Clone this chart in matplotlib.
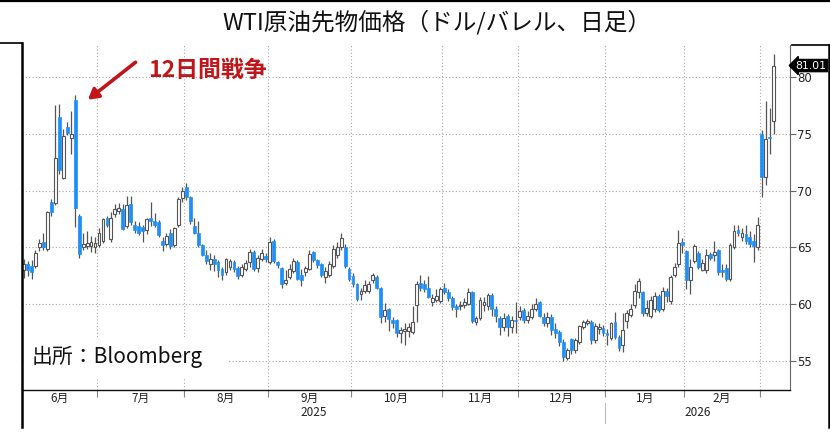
import numpy as np
import pandas as pd
import matplotlib
matplotlib.use('Agg')
import matplotlib.pyplot as plt
from matplotlib.lines import Line2D
from matplotlib.patches import Rectangle

plt.rcParams['font.family'] = ['Noto Sans CJK JP', 'DejaVu Sans']

# Trading days shown (NYMEX holidays taken out)
holidays = ['2025-06-19', '2025-07-04', '2025-09-01', '2025-11-27',
            '2025-12-25', '2026-01-01', '2026-01-19', '2026-02-16']
dates = pd.bdate_range('2025-06-03', '2026-03-05')
dates = dates[~dates.isin(pd.to_datetime(holidays))]

# Daily OHLC (USD/bbl)
opens = [
    # Jun
    63.0, 63.5, 63.4, 63.4, 65.0, 65.5, 64.9, 69.0, 68.9, 76.5, 71.1, 75.6, 74.6, 78.0, 67.8, 65.0, 65.1, 65.1, 65.05,
    # Jul
    65.2, 65.6, 67.55, 65.7, 67.9, 68.2, 68.4, 66.9, 68.8, 67.0, 66.9, 66.8, 66.5, 67.6, 67.3, 67.2, 65.6, 65.3, 66.3, 65.2, 67.0, 69.35,
    # Aug
    70.35, 69.4, 66.9, 66.3, 65.2, 64.35, 63.5, 64.0, 63.7, 63.1, 62.8, 63.3, 63.7, 63.2, 62.6, 63.1, 63.7, 64.6, 63.2, 64.0, 64.25,
    # Sep
    63.7, 65.6, 63.7, 63.2, 61.85, 62.35, 62.9, 63.7, 62.6, 62.85, 63.1, 64.55, 63.9, 63.5, 62.4, 62.6, 63.4, 64.3, 65.0, 65.0, 63.1,
    # Oct
    62.5, 61.75, 60.9, 61.2, 61.15, 62.1, 62.35, 61.45, 59.0, 59.6, 58.6, 58.6, 57.5, 57.6, 57.6, 57.55, 59.9, 61.85, 61.75, 61.4, 60.2, 60.4, 60.25,
    # Nov
    61.4, 61.1, 60.5, 59.8, 59.8, 59.95, 60.05, 61.1, 58.4, 58.75, 59.9, 59.8, 60.8, 59.6, 58.8, 58.0, 59.0, 58.0, 58.6,
    # Dec
    58.9, 59.5, 58.6, 58.9, 59.6, 60.2, 58.9, 58.3, 58.9, 57.85, 57.55, 56.7, 55.3, 56.9, 56.0, 56.7, 58.0, 58.3, 58.45, 56.8, 57.85, 57.9,
    # Jan
    57.5, 57.0, 58.4, 57.1, 56.4, 58.5, 59.05, 59.9, 61.1, 61.05, 59.2, 59.0, 59.6, 60.7, 59.6, 61.2, 60.3, 62.6, 63.5, 65.5,
    # Feb
    64.7, 62.15, 63.8, 64.5, 63.0, 63.0, 64.4, 64.3, 64.8, 63.0, 63.15, 62.2, 65.0, 66.5, 65.9, 66.2, 65.9, 65.6, 65.0,
    # Mar
    75.0, 71.2, 74.75, 76.1,
]
highs = [
    64.0, 63.8, 63.9, 64.8, 65.7, 66.3, 68.2, 69.3, 77.5, 77.6, 75.4, 76.0, 77.0, 78.4, 67.9, 66.3, 66.4, 66.0, 65.9,
    66.7, 67.6, 67.8, 68.1, 68.8, 68.9, 68.8, 69.5, 69.5, 67.3, 67.2, 67.0, 67.6, 69.0, 68.0, 67.4, 65.9, 66.3, 66.6, 66.8, 69.4, 70.3,
    70.7, 69.5, 67.6, 67.3, 65.3, 64.8, 64.5, 64.3, 63.9, 63.3, 64.1, 64.0, 63.9, 63.4, 63.5, 63.9, 64.85, 64.8, 64.3, 64.9, 64.5,
    65.9, 65.7, 63.8, 63.3, 63.0, 63.5, 64.1, 63.9, 63.1, 63.4, 64.8, 64.7, 64.0, 63.6, 63.3, 63.8, 65.2, 65.5, 66.3, 65.3, 63.3,
    62.7, 61.9, 61.4, 62.1, 62.0, 62.75, 62.6, 61.5, 60.1, 59.7, 58.9, 58.7, 58.0, 58.3, 58.3, 59.8, 62.0, 62.6, 62.1, 62.5, 60.9, 61.3, 61.5,
    61.9, 61.3, 60.7, 60.0, 60.3, 60.5, 61.4, 61.2, 59.0, 60.6, 60.6, 61.0, 61.0, 59.8, 59.0, 59.2, 59.1, 59.0, 60.2,
    59.8, 59.7, 59.4, 60.0, 60.5, 60.3, 59.2, 59.3, 59.1, 58.3, 57.7, 56.9, 56.1, 57.0, 57.0, 58.2, 58.6, 58.7, 58.6, 58.3, 58.3, 58.2,
    57.8, 58.4, 59.3, 57.3, 59.2, 59.5, 60.0, 61.8, 62.3, 61.2, 60.4, 60.7, 61.1, 60.9, 61.5, 61.4, 62.6, 63.6, 66.5, 65.8,
    64.8, 64.0, 65.3, 64.7, 64.0, 64.9, 64.6, 65.6, 64.9, 63.5, 63.5, 65.4, 67.0, 67.0, 66.7, 67.0, 66.4, 66.2, 67.7,
    75.3, 77.9, 77.3, 82.0,
]
lows = [
    62.3, 62.5, 62.2, 63.2, 64.7, 64.8, 64.7, 67.8, 68.7, 71.5, 71.0, 74.9, 73.2, 66.8, 64.1, 64.8, 64.9, 64.6, 64.5,
    65.0, 65.4, 66.8, 65.5, 67.7, 67.9, 66.5, 66.7, 67.0, 66.3, 66.1, 65.5, 66.2, 66.9, 66.8, 65.9, 64.7, 65.1, 64.9, 65.0, 66.8, 69.0,
    69.2, 67.1, 66.2, 65.0, 64.2, 63.5, 63.0, 62.9, 62.4, 62.1, 62.6, 63.0, 62.8, 62.2, 62.4, 62.9, 63.25, 62.9, 62.8, 63.8, 63.7,
    63.5, 63.6, 63.2, 61.4, 61.7, 62.2, 62.7, 62.1, 61.6, 62.5, 63.0, 63.7, 63.2, 62.4, 61.9, 62.4, 63.2, 64.1, 64.8, 63.2, 62.0,
    61.5, 60.3, 60.4, 61.0, 61.0, 61.9, 61.3, 58.3, 58.4, 57.6, 57.9, 57.1, 56.6, 56.4, 57.1, 57.4, 58.4, 61.2, 61.1, 60.5, 59.8, 60.2, 60.1,
    60.9, 60.3, 59.5, 58.9, 59.5, 59.7, 59.9, 58.3, 58.2, 58.6, 59.4, 59.5, 59.0, 58.4, 57.3, 57.6, 57.2, 57.5, 57.5,
    58.6, 58.3, 58.3, 58.7, 59.4, 58.9, 58.1, 58.0, 57.3, 57.0, 56.3, 55.0, 55.1, 55.6, 55.7, 56.5, 57.8, 58.2, 56.5, 56.6, 57.4, 57.2,
    56.4, 56.8, 56.9, 55.9, 55.8, 57.9, 58.9, 59.7, 60.5, 59.0, 59.0, 58.8, 59.3, 59.3, 59.4, 60.2, 60.0, 62.4, 63.3, 64.5,
    61.3, 60.9, 63.6, 63.1, 62.9, 62.7, 63.9, 63.8, 62.6, 62.4, 62.0, 62.0, 64.9, 66.0, 65.6, 65.3, 65.0, 63.7, 64.8,
    69.4, 70.5, 73.2, 75.0,
]
closes = [
    63.5, 63.0, 62.8, 64.5, 65.4, 65.0, 68.1, 68.1, 72.9, 71.8, 74.85, 75.05, 75.0, 68.5, 64.4, 65.3, 65.35, 65.5, 65.4,
    66.3, 67.5, 67.0, 67.6, 68.4, 68.5, 66.6, 68.7, 67.2, 66.5, 66.3, 66.4, 67.5, 67.3, 67.0, 66.1, 65.2, 66.0, 65.1, 66.7, 69.3, 70.0,
    69.4, 67.3, 66.3, 65.2, 64.3, 63.8, 64.0, 63.5, 63.0, 62.6, 64.0, 63.8, 63.1, 62.5, 63.3, 63.6, 64.6, 63.1, 64.1, 64.5, 63.95,
    65.5, 63.8, 63.45, 61.75, 62.15, 63.1, 63.8, 62.25, 62.1, 63.2, 64.4, 63.9, 63.45, 62.55, 62.9, 63.5, 64.85, 65.0, 65.8, 63.4, 62.2,
    61.75, 60.45, 61.2, 61.7, 61.75, 62.55, 61.45, 58.9, 59.45, 58.7, 58.3, 57.5, 57.7, 57.8, 58.0, 58.4, 61.8, 61.4, 61.3, 60.65, 60.5, 60.7, 61.3,
    61.1, 60.5, 59.75, 59.6, 59.95, 60.2, 61.1, 58.5, 58.75, 60.35, 60.2, 60.8, 59.6, 59.0, 58.0, 58.8, 58.0, 58.6, 58.5,
    59.4, 58.6, 59.0, 59.6, 60.0, 59.0, 58.3, 58.9, 57.7, 57.5, 56.7, 55.35, 55.95, 56.0, 56.8, 58.1, 58.45, 58.5, 56.8, 58.1, 57.95, 57.5,
    57.3, 58.3, 57.1, 56.1, 57.7, 59.2, 59.6, 61.2, 62.0, 59.2, 59.65, 60.4, 60.7, 59.5, 61.2, 60.7, 62.4, 63.3, 65.4, 65.2,
    62.15, 63.3, 65.1, 63.3, 63.6, 64.35, 64.05, 64.6, 62.8, 62.8, 62.2, 65.2, 66.4, 66.3, 66.3, 65.6, 65.3, 65.1, 67.0,
    71.2, 74.55, 74.65, 81.01,
]
last_price = closes[-1]

title = 'WTI原油先物価格（ドル/バレル、日足）'
event_label = '12日間戦争'
source_label = '出所：Bloomberg'
month_names = ['6月', '7月', '8月', '9月', '10月', '11月', '12月', '1月', '2月']
yticks = [55, 60, 65, 70, 75, 80]

assert len(dates) == len(opens) == len(highs) == len(lows) == len(closes)

blue = '#1e8ff5'
edge = '#555555'
grid_c = '#a8a8a8'

W, H = 830, 442
def fx(px):
    return px / W
def fy(py):
    return 1 - py / H

fig = plt.figure(figsize=(W / 100, H / 100), dpi=100)
ax = fig.add_axes([fx(22), fy(390), (790 - 22) / W, (390 - 45) / H])

o = np.array(opens)
h = np.array(highs)
l = np.array(lows)
c = np.array(closes)
x = np.arange(len(c))
up = c >= o

# month boundaries = half a day before first trading day of each month
month_key = dates.year * 100 + dates.month
first_idx = [i for i in range(1, len(dates)) if month_key[i] != month_key[i - 1]]
bounds = [i - 0.5 for i in first_idx]
xmin, xmax = -0.4, 193.1

# grid
for b in bounds:
    ax.axvline(b, color=grid_c, lw=0.8, ls=(0, (1, 2)), zorder=1)
for yv in yticks:
    ax.axhline(yv, color=grid_c, lw=0.8, ls=(0, (1, 2)), zorder=1)

# candles
ax.vlines(x, l, h, color=edge, lw=0.9, zorder=3)
body = np.maximum(np.abs(c - o), 0.08)
ax.bar(x[up], body[up], bottom=o[up], width=0.72, color='white',
       edgecolor=edge, linewidth=0.8, zorder=4)
ax.bar(x[~up], body[~up], bottom=c[~up], width=0.72, color=blue,
       edgecolor=blue, linewidth=0.5, zorder=4)

ax.set_xlim(xmin, xmax)
ax.set_ylim(52.44, 82.82)

# axes styling
for s in ['top', 'left']:
    ax.spines[s].set_visible(False)
ax.spines['bottom'].set_color('#111111')
ax.spines['bottom'].set_linewidth(1.0)
ax.spines['right'].set_color('#666666')
ax.yaxis.tick_right()
ax.set_yticks(yticks)
ax.set_yticklabels([str(v) for v in yticks], family='DejaVu Sans')
ax.tick_params(axis='y', direction='out', length=4, width=0.8, colors='#666666',
               labelcolor='#222222', labelsize=8.5, pad=1)
ax.set_xticks(bounds)
ax.set_xticklabels([])
ax.tick_params(axis='x', direction='out', length=5, width=0.8, colors='#888888')

# month / year labels
edges = [xmin] + bounds
for k, name in enumerate(month_names):
    mid = (edges[k] + edges[k + 1]) / 2
    ax.text(mid, -0.024, name, transform=ax.get_xaxis_transform(),
            ha='center', va='center', fontsize=8.5, color='#222222')
jan = bounds[month_names.index('1月') - 1]
ax.text((xmin + jan) / 2, -0.066, '2025', transform=ax.get_xaxis_transform(),
        ha='center', va='center', fontsize=8.5, color='#222222')
ax.text((jan + xmax) / 2, -0.066, '2026', transform=ax.get_xaxis_transform(),
        ha='center', va='center', fontsize=8.5, color='#222222')
ax.plot([jan, jan], [-0.038, -0.095], transform=ax.get_xaxis_transform(),
        color='#bbbbbb', lw=0.8, clip_on=False)

# last price tag
ax.annotate(f'{last_price:.2f}', xy=(1.0, last_price),
            xycoords=('axes fraction', 'data'), xytext=(4, 0),
            textcoords='offset points', ha='left', va='center',
            fontsize=7.8, color='white', family='DejaVu Sans',
            bbox=dict(boxstyle='larrow,pad=0.1', fc='black', ec='black'),
            annotation_clip=False)

# event annotation
red = '#c0161b'
ax.text(0.164, 0.9275, event_label, transform=ax.transAxes, ha='left', va='center',
        fontsize=16.5, fontweight='bold', color=red)
ax.annotate('', xy=(16.2, 78.0), xytext=(28.2, 81.3),
            arrowprops=dict(arrowstyle='-|>,head_length=0.6,head_width=0.35',
                            color=red, lw=2.6, shrinkA=0, shrinkB=0),
            zorder=6)

# source box
ax.add_patch(Rectangle((0.002, 0.035), 0.266, 0.118, transform=ax.transAxes,
                       fc='white', ec='none', zorder=2))
ax.text(0.013, 0.095, source_label, transform=ax.transAxes, ha='left', va='center',
        fontsize=15, color='#111111', zorder=5)

# title
fig.text(fx(437), fy(22), title, ha='center', va='center', fontsize=17, color='#111111')

# frame lines of the pasted chart
frame = [([0, 1], [fy(1), fy(1)], 1.6),
         ([fx(22), fx(22)], [fy(43), fy(427)], 1.8),
         ([0, fx(22)], [fy(43), fy(43)], 1.2),
         ([fx(828.5), fx(828.5)], [fy(45), fy(427)], 1.8),
         ([fx(792), 1], [fy(45), fy(45)], 1.2)]
for xs, ys, lw in frame:
    fig.add_artist(Line2D(xs, ys, color='black', lw=lw, transform=fig.transFigure))

fig.savefig('out.png', dpi=100, facecolor='white')
